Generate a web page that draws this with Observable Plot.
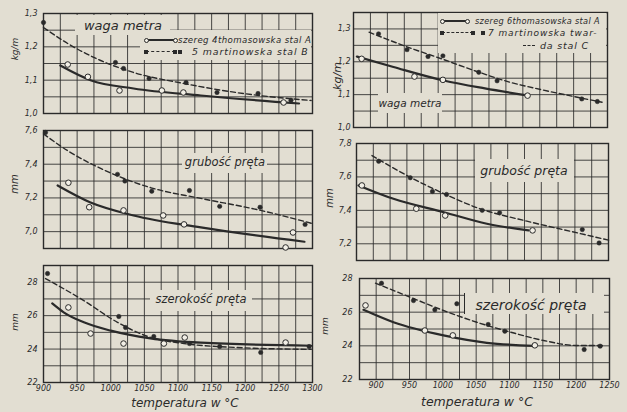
<!DOCTYPE html>
<html><head><meta charset="utf-8">
<script src="https://cdn.jsdelivr.net/npm/d3@7"></script>
<script src="https://cdn.jsdelivr.net/npm/@observablehq/plot@0.6"></script>
<style>
html,body{margin:0;padding:0;background:#e2ded2;}
#c{position:relative;width:627px;height:412px;overflow:hidden;background:#e2ded2;font-family:"DejaVu Sans",sans-serif;font-style:italic;color:#2a2a2a;}
.lab{position:absolute;white-space:nowrap;line-height:1;}
.box{position:absolute;background:#e2ded2;}
</style></head><body><div id="c"></div>
<script>
// ---------- data ----------
const xGridLeft = [900,925,950,975,1000,1025,1050,1075,1100,1125,1150,1175,1200,1225,1250,1275,1300];
const xGridRight = [875,900,925,950,975,1000,1025,1050,1075,1100,1125,1150,1175,1200,1225,1250];
const xTicksLeft = [900,950,1000,1050,1100,1150,1200,1250,1300];
const xTicksRight = [900,950,1000,1050,1100,1150,1200,1250];

const weightGridL = [1.0,1.05,1.1,1.15,1.2,1.25,1.3];
const weightGridR = [1.0,1.05,1.1,1.15,1.2,1.25,1.3,1.35];
const weightTicks = [1.0,1.1,1.2,1.3];
const thickGridL = [6.9,7.0,7.1,7.2,7.3,7.4,7.5,7.6];
const thickTicksL = [7.0,7.2,7.4,7.6];
const thickGridR = [7.1,7.2,7.3,7.4,7.5,7.6,7.7,7.8];
const thickTicksR = [7.2,7.4,7.6,7.8];
const widthGridL = [22,23,24,25,26,27,28,29];
const widthGridR = [22,23,24,25,26,27,28];
const widthTicks = [22,24,26,28];

// left column: series A (thomas, open) and B (martin, filled)
const weightL_A_pts = [[936,1.147],[966,1.11],[1013,1.069],[1076,1.069],[1108,1.063],[1257,1.033]];
const weightL_B_pts = [[900,1.273],[1007,1.153],[1019,1.135],[1057,1.105],[1112,1.093],[1158,1.063],[1219,1.06],[1268,1.04]];
const weightL_A_fit = [[925,1.144],[970,1.1],[1034,1.075],[1134,1.054],[1280,1.03]];
const weightL_B_fit = [[900,1.258],[936,1.21],[985,1.159],[1034,1.123],[1109,1.09],[1183,1.064],[1298,1.039]];

const thickL_A_pts = [[937,7.29],[968,7.145],[1019,7.126],[1078,7.096],[1109,7.043],[1260,6.906],[1271,6.995]];
const thickL_B_pts = [[903,7.588],[1010,7.34],[1021,7.30],[1061,7.24],[1117,7.244],[1162,7.15],[1222,7.145],[1289,7.043]];
const thickL_A_fit = [[921,7.274],[970,7.173],[1034,7.096],[1134,7.025],[1288,6.94]];
const thickL_B_fit = [[900,7.58],[936,7.48],[985,7.375],[1060,7.26],[1134,7.197],[1223,7.126],[1298,7.05]];

const widthL_A_pts = [[937,26.49],[970,24.93],[1019,24.33],[1079,24.33],[1110,24.69],[1260,24.39]];
const widthL_B_pts = [[906,28.52],[1012,25.95],[1022,25.29],[1064,24.75],[1117,24.33],[1162,24.15],[1223,23.8],[1295,24.15]];
const widthL_A_fit = [[913,26.73],[930,26.2],[960,25.6],[1000,25.1],[1059,24.64],[1134,24.38],[1298,24.2]];
const widthL_B_fit = [[903,28.22],[960,26.9],[1010,25.6],[1059,24.7],[1109,24.33],[1183,24.1],[1298,23.98]];

// right column: series A (thomas, open) and C (martin hard, filled)
const weightR_A_pts = [[887,1.209],[965,1.155],[1007,1.145],[1132,1.097]];
const weightR_C_pts = [[912,1.285],[954,1.237],[985,1.216],[1007,1.218],[1060,1.168],[1087,1.142],[1212,1.087],[1235,1.079]];
const weightR_A_fit = [[880,1.216],[934,1.184],[1008,1.143],[1069,1.119],[1131,1.098]];
const weightR_C_fit = [[898,1.29],[956,1.244],[1005,1.209],[1055,1.172],[1104,1.139],[1153,1.115],[1242,1.077]];

const thickR_A_pts = [[883,7.549],[964,7.41],[1007,7.369],[1137,7.28]];
const thickR_C_pts = [[908,7.694],[955,7.595],[988,7.513],[1009,7.495],[1062,7.40],[1088,7.385],[1211,7.285],[1236,7.205]];
const thickR_A_fit = [[878,7.549],[930,7.469],[1005,7.389],[1069,7.32],[1131,7.28]];
const thickR_C_fit = [[898,7.728],[955,7.598],[1005,7.50],[1055,7.415],[1130,7.334],[1205,7.264],[1252,7.22]];

const widthR_A_pts = [[884,26.4],[973,24.91],[1015,24.62],[1138,24.03]];
const widthR_C_pts = [[908,27.72],[956,26.69],[988,26.14],[1021,26.5],[1068,25.27],[1093,24.87],[1212,23.78],[1236,23.98]];
const widthR_A_fit = [[881,26.14],[926,25.4],[1001,24.62],[1066,24.18],[1136,24.0]];
const widthR_C_fit = [[899,27.72],[951,26.89],[1001,26.1],[1051,25.4],[1101,24.82],[1151,24.32],[1201,24.02],[1241,24.02]];

// ---------- drawing ----------
const bg = "#e2ded2", ink = "#2a2a2a", hollow = "#f2efe6";
const c = document.getElementById("c");
const comma1 = d => d.toFixed(1).replace(".", ",");
const plain = d => String(d);

function panel(o) {
  const xy = {x: d => d[0], y: d => d[1]};
  const p = Plot.plot({
    width: o.width, height: o.height,
    marginTop: o.mt, marginRight: o.mr, marginBottom: o.mb, marginLeft: o.ml,
    style: {background: "transparent", color: ink, fontFamily: "DejaVu Sans", fontStyle: "italic", fontSize: "8px", overflow: "visible"},
    x: {domain: o.xDomain, ticks: o.xTicks || [], tickSize: 0, tickPadding: 3, tickFormat: plain, label: null, axis: o.xTicks ? "bottom" : null},
    y: {domain: o.yDomain, ticks: o.yTicks, tickFormat: o.yFmt, tickSize: 0, tickPadding: o.yPad, label: null},
    marks: [
      Plot.ruleX(o.xGrid, {stroke: ink, strokeWidth: 1, strokeOpacity: 0.85}),
      Plot.ruleY(o.yGrid, {stroke: ink, strokeWidth: 1, strokeOpacity: 0.85}),
      Plot.frame({stroke: ink, strokeWidth: 1.4}),
      Plot.line(o.fitA, {...xy, curve: "monotone-x", stroke: ink, strokeWidth: 2.2}),
      Plot.line(o.fitB, {...xy, curve: "monotone-x", stroke: ink, strokeWidth: 1.4, strokeDasharray: "5,3"}),
      Plot.dot(o.ptsA, {...xy, r: 2.8, fill: hollow, stroke: ink, strokeWidth: 1}),
      Plot.dot(o.ptsB, {...xy, r: 2.2, fill: ink, stroke: ink, strokeWidth: 0.5})
    ]
  });
  p.style.position = "absolute";
  p.style.left = o.left + "px";
  p.style.top = o.top + "px";
  c.appendChild(p);
}

// left column
panel({left: 0, top: 0, width: 316, height: 118, mt: 13, mr: 4, mb: 5, ml: 43,
  xDomain: [900, 1300], xGrid: xGridLeft, yDomain: [1.0, 1.3], yGrid: weightGridL, yTicks: weightTicks, yFmt: comma1, yPad: 6,
  ptsA: weightL_A_pts, ptsB: weightL_B_pts, fitA: weightL_A_fit, fitB: weightL_B_fit});
panel({left: 0, top: 118, width: 316, height: 136, mt: 12, mr: 4, mb: 6, ml: 43,
  xDomain: [900, 1300], xGrid: xGridLeft, yDomain: [6.9, 7.6], yGrid: thickGridL, yTicks: thickTicksL, yFmt: comma1, yPad: 6,
  ptsA: thickL_A_pts, ptsB: thickL_B_pts, fitA: thickL_A_fit, fitB: thickL_B_fit});
panel({left: 0, top: 254, width: 316, height: 158, mt: 11, mr: 4, mb: 30, ml: 43,
  xDomain: [900, 1300], xGrid: xGridLeft, xTicks: xTicksLeft, yDomain: [22, 29], yGrid: widthGridL, yTicks: widthTicks, yFmt: plain, yPad: 6,
  ptsA: widthL_A_pts, ptsB: widthL_B_pts, fitA: widthL_A_fit, fitB: widthL_B_fit});

// right column
panel({left: 318, top: 0, width: 309, height: 132, mt: 12, mr: 20, mb: 5, ml: 35,
  xDomain: [875, 1250], xGrid: xGridRight, yDomain: [1.0, 1.35], yGrid: weightGridR, yTicks: weightTicks, yFmt: comma1, yPad: 3,
  ptsA: weightR_A_pts, ptsB: weightR_C_pts, fitA: weightR_A_fit, fitB: weightR_C_fit});
panel({left: 318, top: 132, width: 309, height: 133, mt: 11, mr: 19, mb: 5, ml: 38,
  xDomain: [875, 1250], xGrid: xGridRight, yDomain: [7.1, 7.8], yGrid: thickGridR, yTicks: thickTicksR, yFmt: comma1, yPad: 5,
  ptsA: thickR_A_pts, ptsB: thickR_C_pts, fitA: thickR_A_fit, fitB: thickR_C_fit});
panel({left: 318, top: 265, width: 309, height: 147, mt: 13, mr: 18, mb: 33, ml: 41,
  xDomain: [875, 1250], xGrid: xGridRight, xTicks: xTicksRight, yDomain: [22, 28], yGrid: widthGridR, yTicks: widthTicks, yFmt: plain, yPad: 7,
  ptsA: widthR_A_pts, ptsB: widthR_C_pts, fitA: widthR_A_fit, fitB: widthR_C_fit});

// ---------- annotations (HTML overlay) ----------
function box(l, t, w, h) {
  const d = document.createElement("div");
  d.className = "box";
  Object.assign(d.style, {left: l + "px", top: t + "px", width: w + "px", height: h + "px"});
  c.appendChild(d);
  return d;
}
function label(text, cx, cy, size, anchor, rot, spacing) {
  const d = document.createElement("div");
  d.className = "lab";
  d.textContent = text;
  const tx = anchor === "start" ? "0" : "-50%";
  Object.assign(d.style, {left: cx + "px", top: cy + "px", fontSize: size + "px",
    transform: `translate(${tx},-50%)` + (rot ? ` rotate(${rot}deg)` : "")});
  if (rot) d.style.transformOrigin = "50% 50%";
  if (spacing) d.style.letterSpacing = spacing + "px";
  c.appendChild(d);
  return d;
}
function hline(x1, x2, y, dashed) {
  const d = document.createElement("div");
  Object.assign(d.style, {position: "absolute", left: x1 + "px", top: (y - (dashed ? 0.7 : 1)) + "px", width: (x2 - x1) + "px", height: "0",
    borderTop: dashed ? "1.5px dashed " + ink : "2px solid " + ink});
  c.appendChild(d);
}
function mark(x, y, open) {
  const d = document.createElement("div");
  const s = open ? 5 : 3.5;
  Object.assign(d.style, {position: "absolute", left: (x - s / 2) + "px", top: (y - s / 2) + "px", width: s + "px", height: s + "px",
    boxSizing: "border-box", background: open ? hollow : ink, border: open ? "1px solid " + ink : "none", borderRadius: open ? "50%" : "0"});
  c.appendChild(d);
}

// left top
box(75, 15, 95, 20);
label("waga metra", 123, 25, 13);
box(140, 30, 171, 30);
hline(146, 175, 40, false); mark(146, 40, true); mark(175, 40, true);
label("szereg 4thomasowska stal A", 178, 40, 8.6, "start", null, 0.4);
hline(146, 175, 52, true); mark(146, 52, false); mark(175, 52, false); mark(180, 52, false);
label("5 martinowska stal B", 192, 52, 9.4, "start", null, 0.9);
// left middle / bottom
box(182, 153, 85, 20);
label("grubość pręta", 225, 163, 11.5);
box(150, 290, 102, 21);
label("szerokość pręta", 201, 300, 11.5);

// right top
box(438, 13, 168, 40);
hline(442, 467, 21, false); mark(442, 21, true); mark(467, 21, true);
label("szereg 6thomasowska stal A", 475, 21, 8.2, "start", null, 0.3);
hline(442, 473, 33, true); mark(442, 33, false); mark(473, 33, false); mark(483, 33, false);
label("7 martinowska twar-", 488, 33, 9, "start", null, 0.9);
hline(523, 535, 46, true);
label("da stal C", 540, 46, 9.5, "start", null, 0.8);
box(378, 93, 64, 20);
label("waga metra", 410, 103, 10.5);
// right middle / bottom
box(475, 159, 99, 23);
label("grubość pręta", 524, 171, 12.5);
const b = box(464, 293, 139, 21);
b.style.borderLeft = "1.2px solid " + ink;
label("szerokość pręta", 531, 305, 14);

// unit labels
label("kg/m", 15, 49, 9, null, -90);
label("kg/m", 337, 76, 11, null, -90);
label("mm", 15, 184, 10, null, -90);
label("mm", 330, 198, 10, null, -90);
label("mm", 15, 322, 9, null, -90);
label("mm", 325, 326, 9, null, -90);

// x titles
label("temperatura w °C", 185, 403, 12);
label("temperatura w °C", 477, 402, 12.5);
</script>
</body></html>
